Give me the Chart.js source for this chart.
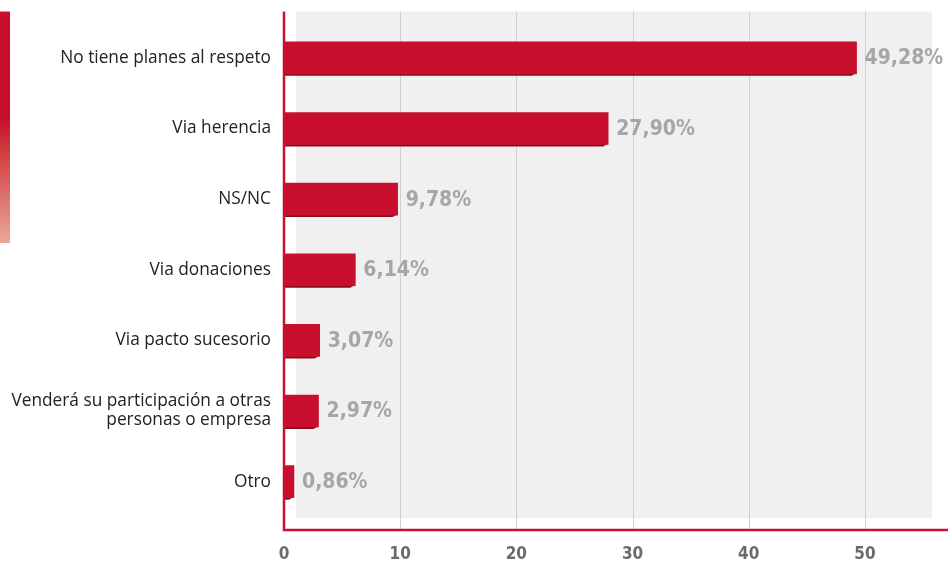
<!DOCTYPE html>
<html>
<head>
<meta charset="utf-8">
<script src="https://cdn.jsdelivr.net/npm/chart.js@4.4.1/dist/chart.umd.min.js"></script>
<style>
  html, body { margin: 0; padding: 0; background: #fff; }
  #wrap { width: 952px; height: 566px; }
</style>
</head>
<body>
<div id="wrap"><canvas id="planes"></canvas></div>
<script>
const categories = [
  'No tiene planes al respeto',
  'Via herencia',
  'NS/NC',
  'Via donaciones',
  'Via pacto sucesorio',
  ['Venderá su participación a otras', 'personas o empresa'],
  'Otro'
];
const values = [49.28, 27.90, 9.78, 6.14, 3.07, 2.97, 0.86];
const xTicks = [0, 10, 20, 30, 40, 50];

const RED = '#c8102e';

// panel behind the bars, grid lines, red axes and the side strip
const backdrop = {
  id: 'backdrop',
  beforeDatasetsDraw(chart) {
    const { ctx, chartArea: a, scales: { x } } = chart;
    const top = a.top - 11, bottom = a.bottom + 13;
    ctx.save();
    ctx.fillStyle = '#f0f0f0';
    ctx.fillRect(a.left + 12, top, a.right - a.left - 28, a.bottom + 1 - top);

    ctx.strokeStyle = '#cfcfcf';
    ctx.lineWidth = 1;
    xTicks.slice(1).forEach(v => {
      const px = Math.round(x.getPixelForValue(v)) + 0.5;
      ctx.beginPath();
      ctx.moveTo(px, top);
      ctx.lineTo(px, bottom);
      ctx.stroke();
    });

    // side strip
    const g = ctx.createLinearGradient(0, top, 0, 243);
    g.addColorStop(0, RED);
    g.addColorStop(0.47, RED);
    g.addColorStop(0.6, '#cf3c40');
    g.addColorStop(1, '#eba898');
    ctx.fillStyle = g;
    ctx.fillRect(0, top, 10, 243 - top);

    // dark lip under each bar
    const meta = chart.getDatasetMeta(0);
    ctx.fillStyle = '#8a0c1f';
    meta.data.forEach(bar => {
      const y1 = bar.y + bar.height / 2;
      ctx.beginPath();
      ctx.moveTo(bar.base, y1 - 1);
      ctx.lineTo(bar.x, y1 - 1);
      ctx.lineTo(bar.x - 5, y1 + 2);
      ctx.lineTo(bar.base, y1 + 2);
      ctx.closePath();
      ctx.fill();
    });
    ctx.restore();
  },
  afterDatasetsDraw(chart) {
    const { ctx, chartArea: a } = chart;
    const top = a.top - 11, bottom = a.bottom + 13;
    ctx.save();
    ctx.strokeStyle = RED;
    ctx.lineWidth = 2.5;
    ctx.beginPath();
    ctx.moveTo(a.left, top);
    ctx.lineTo(a.left, bottom);
    ctx.lineTo(a.right, bottom);
    ctx.stroke();

    // value labels
    const meta = chart.getDatasetMeta(0);
    ctx.fillStyle = '#a6a6a6';
    ctx.font = 'bold 21px "DejaVu Sans Condensed", "DejaVu Sans", sans-serif';
    ctx.textBaseline = 'middle';
    ctx.textAlign = 'left';
    meta.data.forEach((bar, i) => {
      const txt = values[i].toFixed(2).replace('.', ',') + '%';
      ctx.fillText(txt, bar.x + 8, bar.y + 1);
    });
    ctx.restore();
  }
};

new Chart(document.getElementById('planes'), {
  type: 'bar',
  data: {
    labels: categories,
    datasets: [{
      data: values,
      backgroundColor: RED,
      borderWidth: 0,
      barThickness: 32
    }]
  },
  options: {
    indexAxis: 'y',
    responsive: true,
    maintainAspectRatio: false,
    animation: false,
    layout: { padding: { top: 20, right: 4, left: 0, bottom: 0 } },
    plugins: {
      legend: { display: false },
      tooltip: { enabled: false }
    },
    scales: {
      x: {
        min: 0,
        max: 57.15,
        border: { display: false },
        grid: { display: false, drawTicks: false },
        afterBuildTicks(scale) {
          scale.ticks = xTicks.map(v => ({ value: v }));
        },
        afterFit(scale) { scale.height = 49; },
        ticks: {
          padding: 27,
          color: '#6b6b6b',
          font: { family: '"DejaVu Sans Condensed", "DejaVu Sans", sans-serif', size: 17, weight: 'bold' }
        }
      },
      y: {
        border: { display: false },
        grid: { display: false, drawTicks: false },
        afterFit(scale) { scale.width = 284; },
        ticks: {
          padding: 13,
          color: '#222222',
          font: { family: '"Open Sans", sans-serif', size: 17.3, lineHeight: 1.1 }
        }
      }
    }
  },
  plugins: [backdrop]
});
</script>
</body>
</html>
